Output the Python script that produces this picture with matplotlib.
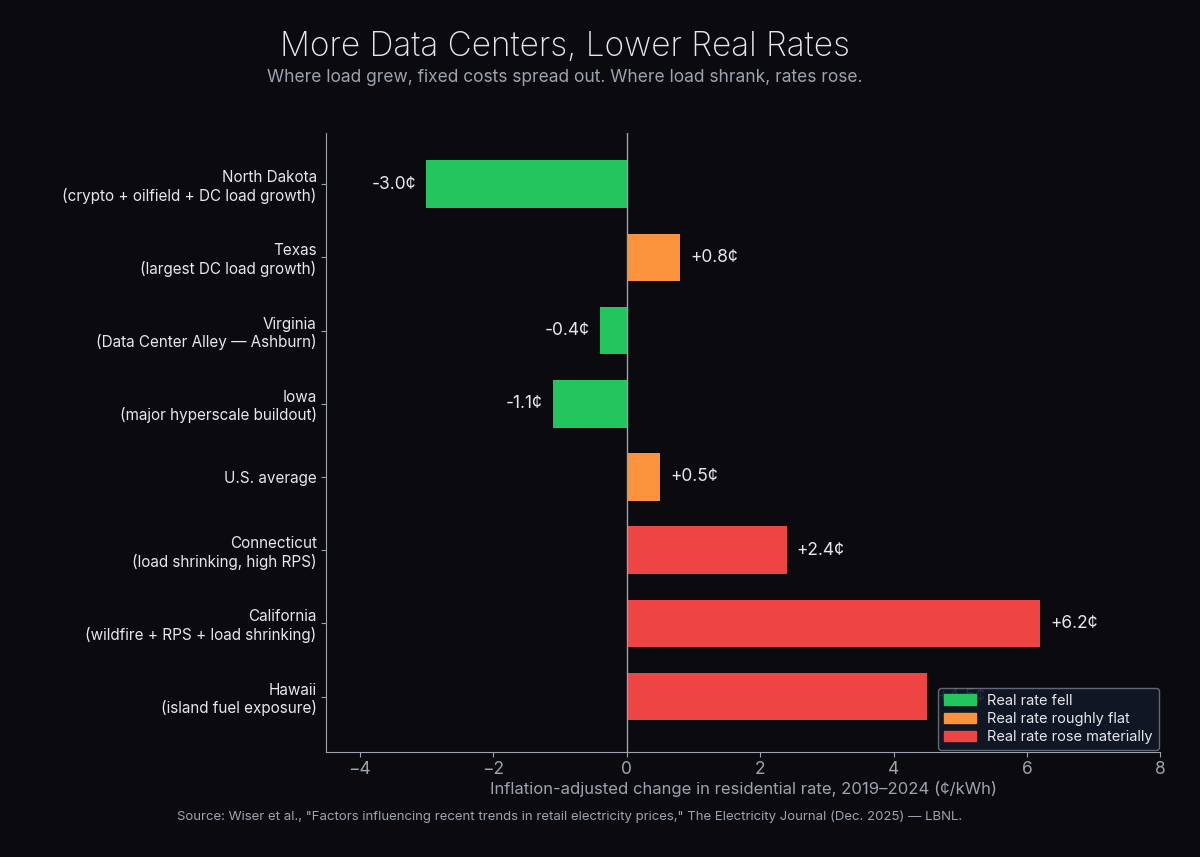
import matplotlib
matplotlib.use("Agg")
import matplotlib.pyplot as plt
from matplotlib.patches import Patch

plt.rcParams['font.family'] = ['Inter', 'DejaVu Sans']

labels = [
    "North Dakota\n(crypto + oilfield + DC load growth)",
    "Texas\n(largest DC load growth)",
    "Virginia\n(Data Center Alley — Ashburn)",
    "Iowa\n(major hyperscale buildout)",
    "U.S. average",
    "Connecticut\n(load shrinking, high RPS)",
    "California\n(wildfire + RPS + load shrinking)",
    "Hawaii\n(island fuel exposure)",
]
values = [-3.0, 0.8, -0.4, -1.1, 0.5, 2.4, 6.2, 4.5]
groups = ["fell", "flat", "fell", "fell", "flat", "rose", "rose", "rose"]

colors = {"fell": "#22c55e", "flat": "#fb923c", "rose": "#ef4444"}
bg = "#0b0b0f"
fg = "#e5e7eb"
muted = "#9ca3af"

fig = plt.figure(figsize=(12, 8.57), dpi=100, facecolor=bg)
ax = fig.add_axes([0.272, 0.123, 0.695, 0.722])
ax.set_facecolor(bg)

y = list(range(len(labels)))
ax.barh(y, values, height=0.65, color=[colors[g] for g in groups], zorder=2)
ax.axvline(0, color=muted, lw=1, zorder=3)

for yi, v in zip(y, values):
    txt = f"{v:+.1f}¢"
    if v < 0:
        ax.text(v - 0.15, yi, txt, ha="right", va="center", color=fg, fontsize=12.5, zorder=1)
    else:
        ax.text(v + 0.15, yi, txt, ha="left", va="center", color=fg, fontsize=12.5, zorder=1)

ax.set_yticks(y)
ax.set_yticklabels(labels, fontsize=11, color=fg)
ax.invert_yaxis()
ax.set_ylim(len(labels) - 0.25, -0.7)
ax.set_xlim(-4.5, 8)
ax.set_xticks([-4, -2, 0, 2, 4, 6, 8])
ax.set_xticklabels(["−4", "−2", "0", "2", "4", "6", "8"])
ax.tick_params(axis="x", colors=muted, labelsize=12.5, labelcolor=muted)
ax.tick_params(axis="y", colors=muted, labelcolor=fg)
for s in ["top", "right"]:
    ax.spines[s].set_visible(False)
for s in ["left", "bottom"]:
    ax.spines[s].set_color(muted)
ax.set_xlabel("Inflation-adjusted change in residential rate, 2019–2024 (¢/kWh)",
              color=muted, fontsize=12, labelpad=2)

handles = [Patch(color=colors["fell"], label="Real rate fell"),
           Patch(color=colors["flat"], label="Real rate roughly flat"),
           Patch(color=colors["rose"], label="Real rate rose materially")]
leg = ax.legend(handles=handles, loc="lower right", fontsize=10.5, frameon=True,
                facecolor="#111827", edgecolor="#6b7280", labelcolor=fg,
                framealpha=0.9, borderpad=0.4, handlelength=2.2,
                labelspacing=0.3, borderaxespad=0.1)
leg.set_zorder(5)

fig.text(0.471, 0.945, "More Data Centers, Lower Real Rates", ha="center", va="center",
         color=fg, fontsize=24, fontweight="light")
fig.text(0.471, 0.91, "Where load grew, fixed costs spread out. Where load shrank, rates rose.",
         ha="center", va="center", color=muted, fontsize=12.5)
fig.text(0.475, 0.047,
         'Source: Wiser et al., "Factors influencing recent trends in retail electricity prices," '
         'The Electricity Journal (Dec. 2025) — LBNL.',
         ha="center", va="center", color=muted, fontsize=9.5)

fig.savefig("out.png", dpi=100, facecolor=bg)
